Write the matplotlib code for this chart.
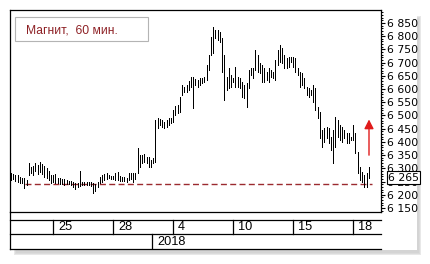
import matplotlib
matplotlib.use("Agg")
import matplotlib.pyplot as plt
import matplotlib.patches as mpatches
import matplotlib.transforms as mtransforms
import numpy as np

# ---------------- data ----------------
highs = [6282,6279,6275,6275,6268,6262,6262,6256,6319,6306,
         6309,6319,6313,6325,6316,6309,6300,6291,6275,6275,
         6279,6265,6262,6258,6258,6256,6253,6252,6248,6243,
         6246,6291,6249,6248,6248,6248,6247,6243,6241,6249,
         6268,6275,6279,6281,6275,6271,6271,6281,6287,6271,
         6268,6266,6262,6281,6281,6281,6282,6376,6350,6350,
         6353,6344,6344,6332,6338,6483,6489,6486,6483,6477,
         6483,6489,6492,6521,6536,6540,6571,6615,6609,6615,
         6632,6647,6647,6637,6634,6641,6641,6644,6691,6729,
         6798,6836,6824,6824,6817,6792,6729,6647,6679,6653,
         6641,6685,6647,6643,6628,6615,6622,6672,6681,6679,
         6748,6729,6697,6691,6679,6666,6679,6672,6666,6710,
         6748,6767,6754,6729,6716,6722,6722,6722,6716,6679,
         6666,6660,6641,6609,6603,6596,6615,6604,6533,6514,
         6445,6452,6458,6452,6420,6445,6495,6483,6464,6458,
         6445,6433,6433,6420,6464,6433,6362,6306,6287,6275,
         6281,6306]
lows = [6256,6258,6253,6249,6243,6243,6224,6237,6275,6281,
        6275,6291,6279,6287,6279,6268,6262,6256,6243,6249,
        6243,6243,6241,6241,6239,6241,6240,6237,6230,6222,
        6228,6233,6237,6238,6238,6238,6234,6206,6213,6228,
        6243,6249,6256,6258,6262,6261,6260,6256,6256,6253,
        6253,6252,6249,6256,6258,6249,6258,6281,6306,6319,
        6325,6319,6306,6306,6319,6325,6452,6464,6458,6452,
        6458,6464,6470,6477,6502,6508,6514,6578,6590,6590,
        6596,6609,6527,6615,6609,6615,6622,6628,6634,6672,
        6729,6735,6792,6786,6779,6666,6559,6596,6603,6609,
        6628,6609,6609,6605,6571,6565,6533,6604,6653,6641,
        6672,6666,6660,6628,6628,6634,6628,6647,6641,6634,
        6691,6704,6697,6679,6679,6685,6704,6685,6666,6653,
        6609,6615,6603,6578,6571,6578,6552,6521,6489,6414,
        6382,6401,6414,6395,6369,6319,6382,6420,6407,6401,
        6414,6395,6395,6407,6407,6357,6282,6256,6249,6231,
        6231,6262]

bars_per_day = 9
day_labels = ["25", "28", "4", "10", "15", "18"]
day_index = [2, 5, 8, 11, 14, 17]
year_label = "2018"
year_start_day = 7
last_price = 6265
support_level = 6240
arrow_from, arrow_to = 6350, 6485
title = "Магнит,  60 мин."
y_ticks = list(range(6150, 6851, 50))

# ---------------- layout helpers ----------------
W, H = 431, 264
fig = plt.figure(figsize=(W / 100, H / 100), dpi=100)
fig.patch.set_facecolor("white")

def frac(x0, y0, x1, y1):
    return [x0 / W, 1 - y1 / H, (x1 - x0) / W, (y1 - y0) / H]

def fig_rect(x0, y0, x1, y1, **kw):
    r = mpatches.Rectangle((x0 / W, 1 - y1 / H), (x1 - x0) / W, (y1 - y0) / H,
                           transform=fig.transFigure, **kw)
    fig.patches.append(r)
    return r

# soft shadow + white panel
for i, a in enumerate([0.06, 0.10, 0.16]):
    d = 2 - i
    fig_rect(14 + d, 16 + d, 421 - d, 254.5 - d,
             facecolor="#707070", edgecolor="none", alpha=a, zorder=0)
fig_rect(10, 10, 417, 249.5, facecolor="white", edgecolor="none", zorder=0.5)

n = len(highs)
x = np.arange(n)
xlim = (-0.45, 166.5)
ylim = (6135, 6899)

ax = fig.add_axes(frac(10, 10, 381, 212))
ax.set_zorder(3)
ax.set_facecolor("white")
ax.set_xlim(*xlim)
ax.set_ylim(*ylim)
ax.vlines(x, lows, highs, colors="black", linewidth=0.5, antialiased=False, zorder=3)

# support dashed line
ax.plot([6.3, 162.3], [support_level, support_level], color="#9b2a2f",
        linewidth=1.0, dashes=(4.3, 2.4), zorder=2)

# red arrow
xa = n - 0.9
ax.annotate("", xy=(xa, arrow_to), xytext=(xa, arrow_from),
            arrowprops=dict(arrowstyle="-|>,head_length=0.55,head_width=0.28",
                            color="#e01b1b", lw=1.0, mutation_scale=10,
                            shrinkA=0, shrinkB=0), zorder=4)

for s in ax.spines.values():
    s.set_color("black")
    s.set_linewidth(0.9)

ax.set_xticks([])
ax.yaxis.tick_right()
ax.set_yticks(y_ticks)
ax.set_yticklabels([f"{v:,}".replace(",", " ") for v in y_ticks])
ax.set_yticks(list(range(6140, 6900, 10)), minor=True)
ax.tick_params(axis="y", which="major", length=3.2, width=0.8, pad=0.8,
               labelsize=7.8, colors="black", direction="out")
ax.tick_params(axis="y", which="minor", length=1.6, width=0.7, direction="out")
for lab in ax.get_yticklabels():
    lab.set_fontfamily("DejaVu Sans")

# last price box
trans = mtransforms.blended_transform_factory(ax.transAxes, ax.transData)
ax.text((388 - 10) / 371, last_price, f"{last_price:,}".replace(",", " "),
        transform=trans, ha="left", va="center", fontsize=7.8,
        family="DejaVu Sans", zorder=10, clip_on=False,
        bbox=dict(boxstyle="square,pad=0.12", facecolor="white",
                  edgecolor="black", linewidth=0.8))

# title box
tb = mpatches.Rectangle((4.7 / 371, 1 - 31.3 / 202), 133.3 / 371, 24 / 202,
                        transform=ax.transAxes, facecolor="white",
                        edgecolor="#b4b4b4", linewidth=0.8, zorder=5)
ax.add_patch(tb)
ax.text(16 / 371, 1 - 20.5 / 202, title, color="#8e2226", fontsize=8.7,
        family="Liberation Sans", ha="left", va="center", zorder=6,
        transform=ax.transAxes)

# date rows
bx = fig.add_axes(frac(10, 212, 381, 249.3))
bx.set_zorder(3)
bx.set_xlim(*xlim)
bx.set_ylim(37.3, 0)
bx.axis("off")
lw = 0.9
bx.axhline(7.7, color="black", linewidth=lw, clip_on=False)
bx.axhline(22.3, color="black", linewidth=lw, clip_on=False)
bx.axhline(37.0, color="black", linewidth=lw, clip_on=False)
bx.plot([xlim[0], xlim[0]], [0, 37.0], color="black", linewidth=lw, clip_on=False)
for d, lab in zip(day_index, day_labels):
    p = d * bars_per_day + 0.9
    bx.plot([p, p], [7.7, 22.3], color="black", linewidth=lw)
    bx.text(p + 2.2, 15.2, lab, fontsize=9.2, family="Liberation Sans",
            ha="left", va="center")
py = year_start_day * bars_per_day + 0.5
bx.plot([py, py], [22.3, 37.0], color="black", linewidth=lw)
bx.text(py + 2.2, 29.8, year_label, fontsize=9.2, family="Liberation Sans",
        ha="left", va="center")

fig.savefig("out.png", dpi=100, facecolor="white")
